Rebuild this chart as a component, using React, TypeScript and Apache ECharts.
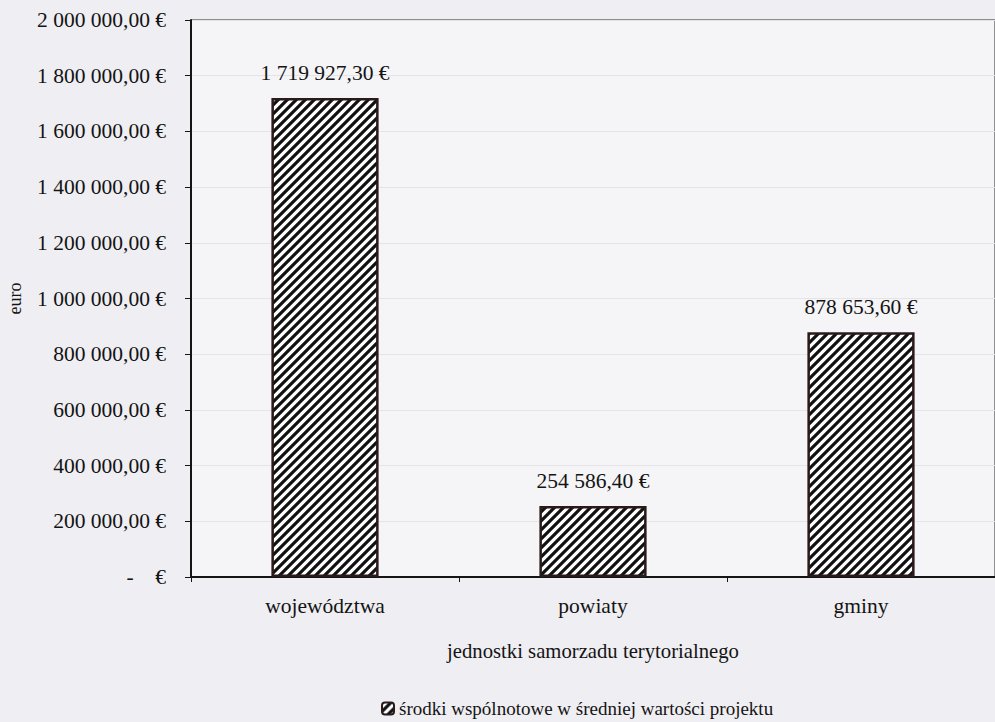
import React, { useEffect, useRef } from "react";
import * as echarts from "echarts";

const categories = ["województwa", "powiaty", "gminy"];
const values = [1719927.3, 254586.4, 878653.6];
const seriesName = "środki wspólnotowe w średniej wartości projektu";
const yAxisName = "euro";
const xAxisName = "jednostki samorzadu terytorialnego";

const FONT = "'Liberation Serif', 'Times New Roman', serif";
const INK = "#141414";

function fmtPL(v: number): string {
  if (v === 0) return "-    €";
  const fixed = v.toFixed(2);
  const [intPart, dec] = fixed.split(".");
  const withSpaces = intPart.replace(/\B(?=(\d{3})+(?!\d))/g, " ");
  return withSpaces + "," + dec + " €";
}

function makeHatch(): HTMLCanvasElement {
  const c = document.createElement("canvas");
  const s = 9;
  c.width = s;
  c.height = s;
  const ctx = c.getContext("2d")!;
  ctx.fillStyle = "#ffffff";
  ctx.fillRect(0, 0, s, s);
  ctx.strokeStyle = "#111111";
  ctx.lineWidth = 3.2;
  ctx.beginPath();
  ctx.moveTo(-1, s + 1);
  ctx.lineTo(s + 1, -1);
  ctx.moveTo(-3, 3);
  ctx.lineTo(3, -3);
  ctx.moveTo(s - 3, s + 3);
  ctx.lineTo(s + 3, s - 3);
  ctx.stroke();
  return c;
}

export default function App() {
  const ref = useRef<HTMLDivElement>(null);
  useEffect(() => {
    document.body.style.margin = "0";
    if (!ref.current) return;
    const chart = echarts.init(ref.current, undefined, { renderer: "svg" });
    const hatch = makeHatch();
    chart.setOption({
      animation: false,
      backgroundColor: "#efeef2",
      textStyle: { fontFamily: FONT, color: INK },
      grid: {
        left: 191,
        right: 0,
        top: 20,
        bottom: 145,
        outerBoundsMode: "none",
        containLabel: false,
        show: true,
        backgroundColor: "#f5f4f7",
        borderColor: "#2a2a2a",
        borderWidth: 1,
      },
      legend: {
        top: 694,
        left: 376,
        itemWidth: 12,
        itemHeight: 12,
        itemGap: 4,
        textStyle: { fontFamily: FONT, fontSize: 19, color: INK },
        data: [seriesName],
      },
      xAxis: {
        type: "category",
        data: categories,
        name: xAxisName,
        nameLocation: "middle",
        nameGap: 63,
        nameTextStyle: { fontFamily: FONT, fontSize: 20.7, color: INK },
        axisLine: { lineStyle: { color: INK, width: 2 } },
        axisTick: { show: true, length: 5, lineStyle: { color: INK } },
        axisLabel: { fontFamily: FONT, fontSize: 21.5, color: INK, margin: 18 },
      },
      yAxis: {
        type: "value",
        min: 0,
        max: 2000000,
        interval: 200000,
        name: yAxisName,
        nameLocation: "middle",
        nameRotate: 90,
        nameGap: 167,
        nameTextStyle: { fontFamily: FONT, fontSize: 18, color: INK },
        axisLine: { show: true, lineStyle: { color: INK, width: 2 } },
        axisTick: { show: true, length: 6, lineStyle: { color: INK } },
        splitLine: { show: true, lineStyle: { color: "#e4e3e8", width: 1 } },
        axisLabel: {
          fontFamily: FONT,
          fontSize: 21.5,
          color: INK,
          margin: 25,
          formatter: (v: number) => fmtPL(v),
        },
      },
      series: [
        {
          name: seriesName,
          type: "bar",
          data: values,
          barWidth: "40%",
          itemStyle: {
            color: { image: hatch, repeat: "repeat" },
            borderColor: "#2a1a1a",
            borderWidth: 2.5,
          },
          label: {
            show: true,
            position: "top",
            distance: 14,
            fontFamily: FONT,
            fontSize: 21.5,
            color: INK,
            formatter: (p: any) => fmtPL(p.value),
          },
        },
      ],
    });
    return () => chart.dispose();
  }, []);
  return <div ref={ref} style={{ width: 995, height: 722 }} />;
}
